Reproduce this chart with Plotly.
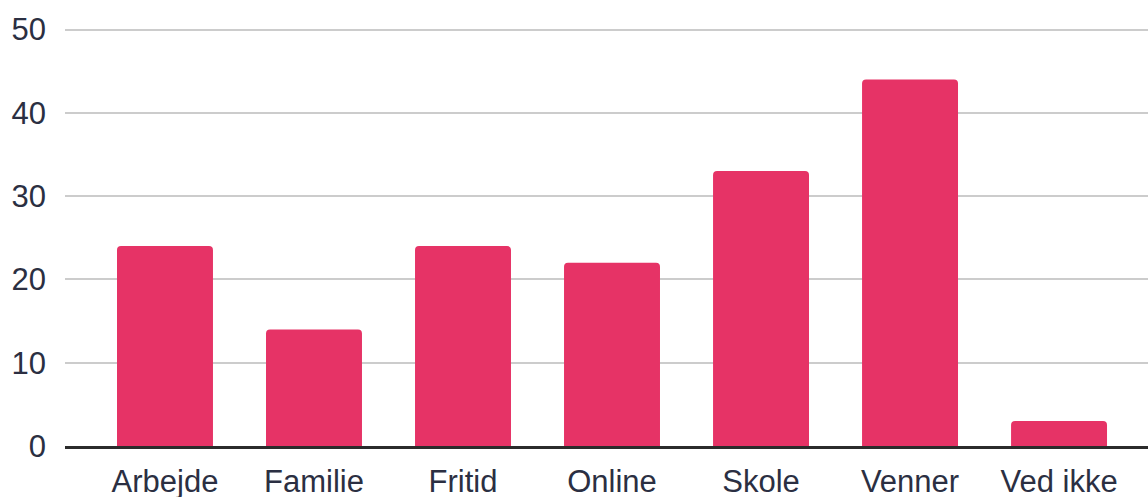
import plotly.graph_objects as go

categories = ["Arbejde", "Familie", "Fritid", "Online", "Skole", "Venner", "Ved ikke"]
values = [24, 14, 24, 22, 33, 44, 3]
y_ticks = [0, 10, 20, 30, 40, 50]

fig = go.Figure(go.Bar(
    x=categories, y=values,
    marker=dict(color="#E63366", cornerradius=4, line=dict(width=0)),
    hoverinfo="x+y",
))

font_color = "#2b2f42"
fig.update_layout(
    width=1148, height=497,
    margin=dict(l=65, r=0, t=27, b=51, autoexpand=False),
    paper_bgcolor="white", plot_bgcolor="white",
    bargap=0.356,
    showlegend=False,
    font=dict(family="Liberation Sans, Arial, sans-serif", size=31, color=font_color),
)
fig.update_xaxes(
    type="category",
    range=[-0.671, 6.597],
    showgrid=False, zeroline=False,
    showline=True, linecolor="#2b2b2b", linewidth=3,
    ticks="", ticklabelstandoff=6,
    automargin=False,
    tickfont=dict(size=31, color=font_color),
)
fig.update_yaxes(
    range=[0, 50.3],
    tickvals=y_ticks,
    showgrid=True, gridcolor="#cccccc", gridwidth=2,
    zeroline=False, showline=False,
    ticks="", ticklabelstandoff=18,
    automargin=False,
    tickfont=dict(size=31, color=font_color),
)
fig.write_html(
    "out.html",
    config={"displayModeBar": False},
    post_script="document.body.style.margin='0';document.body.style.overflow='hidden';",
)
